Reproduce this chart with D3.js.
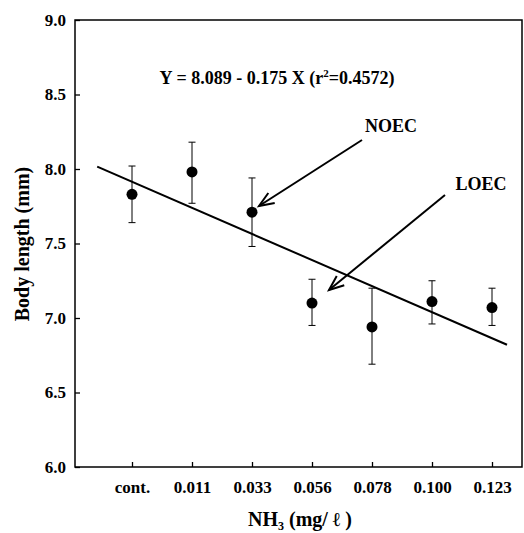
<!DOCTYPE html>
<html>
<head>
<meta charset="utf-8">
<script src="https://cdn.jsdelivr.net/npm/d3@7"></script>
<style>
  body { margin: 0; background: #fff; }
  text { font-family: "Liberation Serif", "Times New Roman", serif; font-weight: bold; fill: #000; }
</style>
</head>
<body>
<div id="chart"></div>
<script>
// categories (X = 1..7 in the regression)
var categories = ["cont.", "0.011", "0.033", "0.056", "0.078", "0.100", "0.123"];
var means = [7.83, 7.98, 7.71, 7.10, 6.94, 7.11, 7.07];
var errTop = [8.02, 8.18, 7.94, 7.26, 7.20, 7.25, 7.20];
var errBottom = [7.64, 7.77, 7.48, 6.95, 6.69, 6.96, 6.95];
var yTicks = [6.0, 6.5, 7.0, 7.5, 8.0, 8.5, 9.0];
var intercept = 8.089, slope = -0.175;
var fitRange = [0.42, 7.25];

var W = 524, H = 533;
var svg = d3.select("#chart").append("svg")
    .attr("width", W)
    .attr("height", H);

var x = d3.scaleLinear().domain([0.05, 7.5]).range([75, 522]);
var y = d3.scaleLinear().domain([6, 9]).range([467, 20]);

// frame
svg.append("rect")
    .attr("x", x.range()[0]).attr("y", y.range()[1])
    .attr("width", x.range()[1] - x.range()[0])
    .attr("height", y.range()[0] - y.range()[1])
    .attr("fill", "none").attr("stroke", "#000").attr("stroke-width", 1.5);

var yAxis = d3.axisLeft(y)
    .tickValues(yTicks)
    .tickFormat(d3.format(".1f"))
    .tickSizeInner(-5).tickSizeOuter(0).tickPadding(9);

var gy = svg.append("g")
    .attr("transform", "translate(" + x.range()[0] + ",0)")
    .call(yAxis);
gy.select(".domain").remove();
gy.selectAll("text").style("font-size", "17px").style("font-family", "Liberation Serif").attr("font-weight", "bold");
gy.selectAll("line").attr("stroke-width", 1.3);

var xAxis = d3.axisBottom(x)
    .tickValues(d3.range(1, categories.length + 1))
    .tickFormat(function(d) { return categories[d - 1]; })
    .tickSizeInner(-5).tickSizeOuter(0).tickPadding(14);

var gx = svg.append("g")
    .attr("transform", "translate(0," + y.range()[0] + ")")
    .call(xAxis);
gx.select(".domain").remove();
gx.selectAll("text").style("font-size", "17px").style("font-family", "Liberation Serif").attr("font-weight", "bold");
gx.selectAll("line").attr("stroke-width", 1.3);

// axis titles
svg.append("text")
    .attr("transform", "translate(22,244) rotate(-90)")
    .attr("text-anchor", "middle")
    .attr("dy", "0.35em")
    .style("font-size", "20px")
    .text("Body length (mm)");

var xt = svg.append("text")
    .attr("x", 300).attr("y", 526)
    .attr("text-anchor", "middle")
    .style("font-size", "20px");
xt.append("tspan").text("NH");
xt.append("tspan").attr("dy", 4).style("font-size", "12px").text("3");
xt.append("tspan").attr("dy", -4).text(" (mg/ \u2113 )");

// regression line
svg.append("line")
    .attr("x1", x(fitRange[0])).attr("y1", y(intercept + slope * fitRange[0]))
    .attr("x2", x(fitRange[1])).attr("y2", y(intercept + slope * fitRange[1]))
    .attr("stroke", "#000").attr("stroke-width", 2);

// error bars
var eb = svg.append("g");
categories.forEach(function(c, i) {
  var cx = x(i + 1);
  eb.append("line")
      .attr("x1", cx).attr("x2", cx)
      .attr("y1", y(errTop[i])).attr("y2", y(errBottom[i]))
      .attr("stroke", "#000").attr("stroke-width", 1);
  [errTop[i], errBottom[i]].forEach(function(v) {
    eb.append("line")
        .attr("x1", cx - 3.5).attr("x2", cx + 3.5)
        .attr("y1", y(v)).attr("y2", y(v))
        .attr("stroke", "#000").attr("stroke-width", 1);
  });
});

svg.selectAll(".dot")
    .data(means)
    .enter().append("circle")
    .attr("class", "dot")
    .attr("cx", function(d, i) { return x(i + 1); })
    .attr("cy", function(d) { return y(d); })
    .attr("r", 5.5)
    .attr("fill", "#000");

// equation
var eq = svg.append("text")
    .attr("x", 277).attr("y", 84)
    .attr("text-anchor", "middle")
    .style("font-size", "18px");
eq.append("tspan").text("Y = 8.089 - 0.175 X (r");
eq.append("tspan").attr("dy", -7).style("font-size", "11px").text("2");
eq.append("tspan").attr("dy", 7).text("=0.4572)");

// annotation arrows
function arrow(x1, y1, x2, y2) {
  var a = Math.atan2(y2 - y1, x2 - x1), L = 16, s = 0.38;
  svg.append("line")
      .attr("x1", x1).attr("y1", y1).attr("x2", x2).attr("y2", y2)
      .attr("stroke", "#000").attr("stroke-width", 2);
  svg.append("path")
      .attr("d", "M" + (x2 - L * Math.cos(a - s)) + "," + (y2 - L * Math.sin(a - s)) +
                 "L" + x2 + "," + y2 +
                 "L" + (x2 - L * Math.cos(a + s)) + "," + (y2 - L * Math.sin(a + s)))
      .attr("fill", "none").attr("stroke", "#000").attr("stroke-width", 2);
}
arrow(362, 140, 259, 206);
arrow(445, 195, 329, 290);

svg.append("text").attr("x", 391).attr("y", 132).attr("text-anchor", "middle")
    .style("font-size", "18px").text("NOEC");
svg.append("text").attr("x", 481).attr("y", 190).attr("text-anchor", "middle")
    .style("font-size", "18px").text("LOEC");
</script>
</body>
</html>
